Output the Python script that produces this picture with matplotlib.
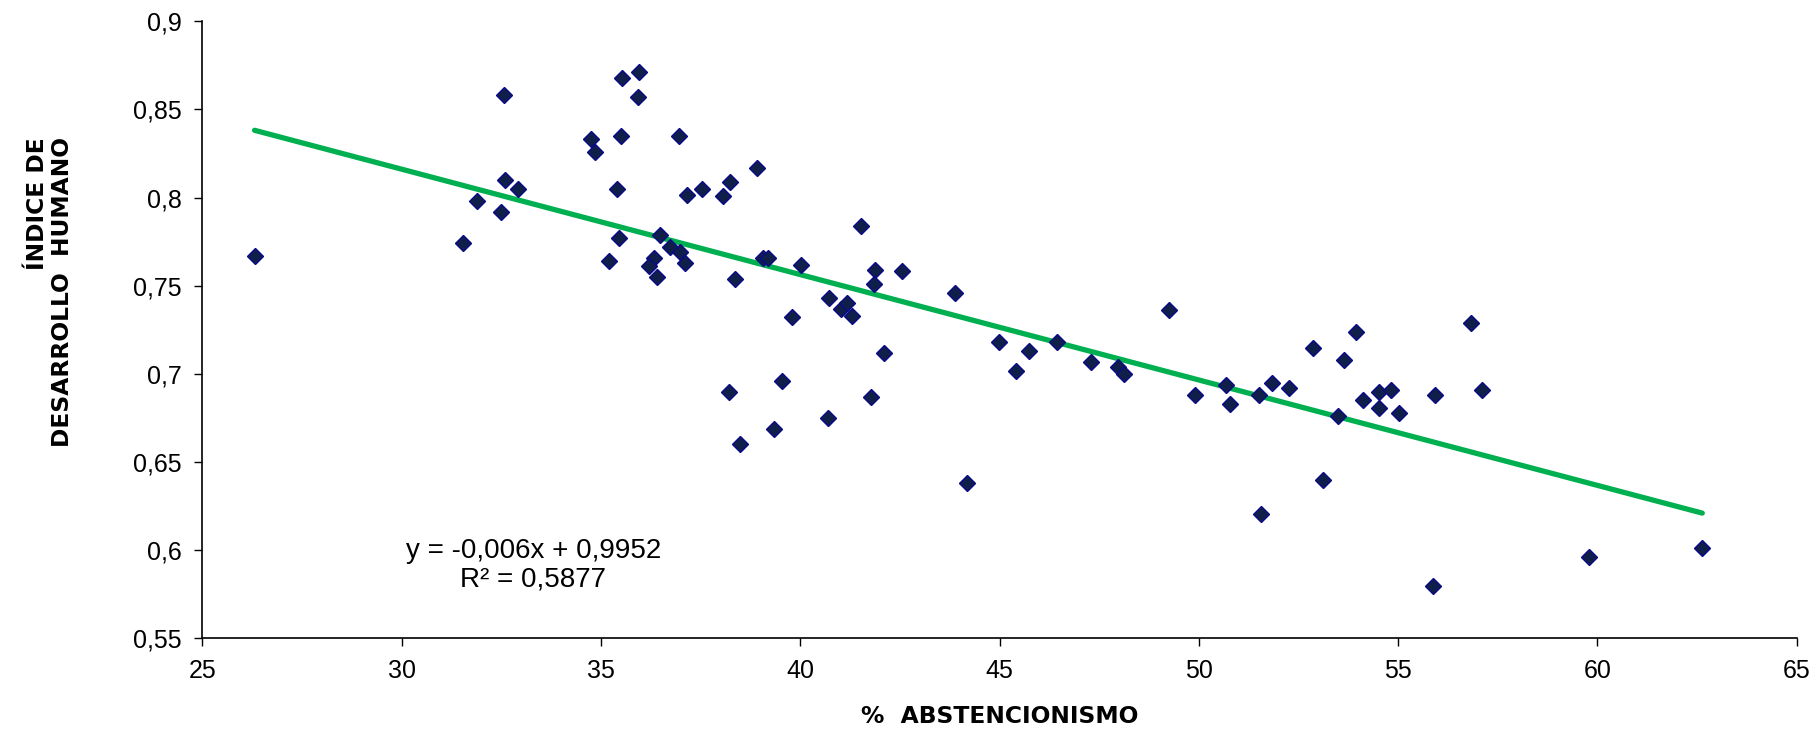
import numpy as np
import matplotlib
matplotlib.use("Agg")
import matplotlib.pyplot as plt
from matplotlib.ticker import FuncFormatter, MultipleLocator

# % abstencionismo vs indice de desarrollo humano
abstencion = [
    26.31, 31.55, 31.90, 32.58, 32.60, 32.49, 32.93, 34.74, 34.85, 35.53,
    35.96, 35.92, 35.50, 36.96, 35.40, 37.16, 35.45, 35.21, 36.48, 36.32,
    36.21, 36.40, 36.73, 36.98, 37.11, 38.92, 38.24, 38.07, 37.53, 39.07,
    39.18, 40.01, 38.37, 39.80, 40.71, 41.02, 41.18, 41.31, 41.53, 41.87,
    41.84, 42.56, 43.89, 42.10, 38.22, 39.54, 41.78, 40.70, 39.35, 38.49,
    44.19, 44.99, 45.41, 45.74, 46.45, 47.29, 47.96, 48.13, 49.26, 49.91,
    50.68, 50.78, 51.50, 51.84, 52.25, 51.56, 52.86, 53.11, 53.48, 53.63,
    53.95, 54.11, 54.53, 54.53, 54.83, 55.01, 55.93, 55.88, 56.83, 57.10,
    59.79, 62.63,
]
idh = [
    0.767, 0.774, 0.798, 0.858, 0.810, 0.792, 0.805, 0.833, 0.826, 0.868,
    0.871, 0.857, 0.835, 0.835, 0.805, 0.8015, 0.777, 0.764, 0.779, 0.766,
    0.761, 0.755, 0.772, 0.769, 0.763, 0.817, 0.809, 0.801, 0.805, 0.766,
    0.766, 0.762, 0.754, 0.732, 0.743, 0.737, 0.740, 0.733, 0.784, 0.759,
    0.751, 0.7585, 0.746, 0.712, 0.690, 0.696, 0.687, 0.675, 0.669, 0.660,
    0.638, 0.718, 0.7015, 0.713, 0.718, 0.707, 0.704, 0.700, 0.736, 0.688,
    0.6935, 0.683, 0.688, 0.695, 0.692, 0.6205, 0.7145, 0.640, 0.676, 0.708,
    0.724, 0.685, 0.6895, 0.6805, 0.691, 0.678, 0.688, 0.5795, 0.729, 0.691,
    0.596, 0.601,
]

x_label = "%  ABSTENCIONISMO"
y_label = "ÍNDICE DE\nDESARROLLO  HUMANO"
eq_text = "y = -0,006x + 0,9952\nR² = 0,5877"

x = np.array(abstencion)
y = np.array(idh)

# linear trend over the data range
slope, intercept = np.polyfit(x, y, 1)
xs = np.array([x.min(), x.max()])

fig = plt.figure(figsize=(18.18, 7.3), dpi=100)
ax = fig.add_axes([0.1113, 0.1256, 0.8770, 0.8452])

ax.plot(xs, slope * xs + intercept, color="#00B050", linewidth=3.8,
        solid_capstyle="round", zorder=2)
ax.plot(x, y, linestyle="none", marker="D", markersize=8,
        markerfacecolor="#0F1F4A", markeredgecolor="#0A0A8A",
        markeredgewidth=1.0, zorder=3)

ax.set_xlim(25, 65)
ax.set_ylim(0.55, 0.9)
ax.xaxis.set_major_locator(MultipleLocator(5))
ax.yaxis.set_major_locator(MultipleLocator(0.05))
ax.yaxis.set_major_formatter(FuncFormatter(lambda v, p: f"{v:g}".replace(".", ",")))

for side in ["top", "right"]:
    ax.spines[side].set_visible(False)
for side in ["left", "bottom"]:
    ax.spines[side].set_linewidth(1.2)

ax.tick_params(direction="out", length=6, width=1, colors="black", pad=9)
for lab in ax.get_xticklabels() + ax.get_yticklabels():
    lab.set_fontfamily("Liberation Sans")
    lab.set_fontsize(18)

ax.set_xlabel(x_label, fontsize=16.8, fontweight="bold",
              fontfamily="DejaVu Sans", labelpad=16)
fig.text(0.0275, 0.600, y_label, rotation=90, ha="center", va="center",
         multialignment="right", fontsize=16.8, fontweight="bold",
         fontfamily="DejaVu Sans", linespacing=1.1)

ax.text(33.3, 0.5915, eq_text, ha="center", va="center",
        multialignment="center", fontsize=20, fontfamily="Liberation Sans",
        linespacing=1.15)

fig.savefig("out.png", dpi=100)
